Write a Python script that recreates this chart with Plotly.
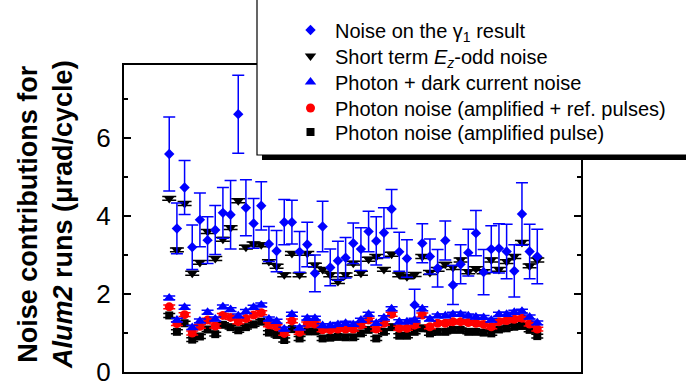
import plotly.graph_objects as go

FONT = "Liberation Sans, Arial, sans-serif"

# run index along the x axis (no labels shown)
runs = list(range(1, 50))

# Noise on the gamma_1 result, with its error bars
gamma1 = [5.59, 3.68, 4.73, 3.20, 3.90, 3.38, 3.64, 4.08, 4.03, 6.61,
          4.21, 3.81, 4.26, 3.28, 3.10, 3.84, 3.84, 3.08, 3.27, 2.53,
          3.73, 2.68, 2.85, 2.93, 3.30, 3.15, 3.60, 3.36, 3.57, 4.18,
          3.08, 2.91, 1.72, 3.30, 2.96, 2.66, 3.37, 2.23, 2.76, 3.06,
          3.56, 2.56, 3.15, 3.17, 3.09, 2.59, 4.05, 3.09, 2.96]
gamma1_err = [0.95, 0.65, 0.69, 0.57, 0.69, 0.60, 0.63, 0.65, 0.88, 1.00,
              0.72, 0.64, 0.62, 0.45, 0.53, 0.58, 0.56, 0.52, 0.57, 0.47,
              0.65, 0.47, 0.50, 0.52, 0.52, 0.55, 0.52, 0.62, 0.64, 0.50,
              0.50, 0.48, 0.40, 0.50, 0.45, 0.48, 0.50, 0.50, 0.50, 0.60,
              0.58, 0.58, 0.60, 0.63, 0.70, 0.67, 0.80, 0.70, 0.70]

# Short term Ez-odd noise
ez_odd = [4.45, 3.13, 4.32, 2.53, 2.81, 3.60, 2.91, 3.40, 3.70, 4.39,
          3.20, 3.28, 3.26, 2.83, 2.71, 2.49, 3.04, 2.49, 3.04, 2.74,
          2.63, 2.49, 2.32, 2.49, 2.79, 2.53, 2.89, 2.96, 2.63, 3.02,
          2.49, 2.44, 2.50, 2.96, 2.55, 2.63, 2.76, 2.68, 2.87, 2.57,
          2.65, 2.57, 2.87, 2.63, 2.83, 2.96, 3.32, 2.72, 2.87]

# Photon + dark current noise
photon_dark = [1.90, 1.33, 1.66, 1.14, 1.31, 1.53, 1.36, 1.67, 1.60, 1.44,
               1.55, 1.66, 1.72, 1.36, 1.30, 1.10, 1.48, 1.13, 1.38, 1.38,
               1.19, 1.19, 1.22, 1.25, 1.22, 1.33, 1.48, 1.25, 1.39, 1.62,
               1.29, 1.29, 1.33, 1.62, 1.36, 1.44, 1.44, 1.48, 1.48, 1.44,
               1.41, 1.40, 1.33, 1.48, 1.48, 1.53, 1.56, 1.41, 1.26]

# Photon noise (amplified + ref. pulses)
photon_amp_ref = [1.67, 1.24, 1.47, 1.00, 1.17, 1.33, 1.18, 1.45, 1.40, 1.29,
                  1.37, 1.46, 1.52, 1.21, 1.16, 0.99, 1.31, 1.02, 1.23, 1.23,
                  1.08, 1.08, 1.10, 1.10, 1.10, 1.20, 1.33, 1.10, 1.25, 1.48,
                  1.12, 1.12, 1.20, 1.46, 1.16, 1.25, 1.25, 1.29, 1.29, 1.27,
                  1.25, 1.22, 1.16, 1.29, 1.32, 1.35, 1.38, 1.23, 1.10]

# Photon noise (amplified pulse)
photon_amp = [1.45, 1.03, 1.25, 0.83, 0.91, 1.09, 0.97, 1.21, 1.15, 1.07,
              1.15, 1.22, 1.29, 1.01, 0.95, 0.82, 1.10, 0.86, 1.04, 1.04,
              0.86, 0.88, 0.90, 0.89, 0.89, 0.99, 1.08, 0.86, 1.03, 1.15,
              0.93, 0.93, 1.03, 1.12, 0.99, 1.03, 1.03, 1.08, 1.08, 1.03,
              1.03, 1.01, 0.99, 1.09, 1.12, 1.16, 1.18, 1.08, 0.92]

small_err = 0.05

fig = go.Figure()

series = [
    # name, y, symbol, color, size, errors, legend
    ("Photon noise (amplified pulse)", photon_amp, "square", "black", 8,
     dict(type="constant", value=small_err, width=6, thickness=1.5), "legend5"),
    ("Photon noise (amplified + ref. pulses)", photon_amp_ref, "circle", "#ff0000", 9,
     dict(type="constant", value=small_err, width=6, thickness=1.5), "legend4"),
    ("Photon + dark current noise", photon_dark, "triangle-up", "#0000ff", 10,
     dict(type="constant", value=small_err, width=6, thickness=1.5), "legend3"),
    ("Short term <i>E<sub>z</sub></i>-odd noise", ez_odd, "triangle-down", "black", 10,
     dict(type="constant", value=small_err, width=7, thickness=1.5), "legend2"),
    ("Noise on the γ<sub>1</sub> result", gamma1, "diamond", "#0000ff", 8,
     dict(type="data", array=gamma1_err, width=6, thickness=1.5), "legend"),
]

for name, y, sym, col, size, err, leg in series:
    err["color"] = col
    fig.add_trace(go.Scatter(
        x=runs, y=y, mode="markers", name=name, legend=leg,
        marker=dict(symbol=sym, color=col, size=size, line=dict(width=0)),
        error_y=err,
    ))

# plot area in pixels: x 124..581, y 65..372
W, H = 686, 383
L, R, T, B = 124, 105, 65, 11
pw, ph = W - L - R, H - T - B


def px_x(p):
    return (p - L) / pw


def px_y(p):
    return (H - B - p) / ph


# legend box with drop shadow
fig.add_shape(type="rect", xref="paper", yref="paper", layer="above",
              x0=px_x(262), x1=px_x(710), y0=px_y(160), y1=px_y(-10),
              fillcolor="black", line=dict(width=0))
fig.add_shape(type="rect", xref="paper", yref="paper", layer="above",
              x0=px_x(257), x1=px_x(705), y0=px_y(155), y1=px_y(-15),
              fillcolor="white", line=dict(color="black", width=1.2))

rows = [30, 56, 82, 108, 132]
leg_common = dict(font=dict(family=FONT, size=20, color="black"),
                  bgcolor="rgba(0,0,0,0)", borderwidth=0, itemwidth=39,
                  xanchor="left", yanchor="middle", x=px_x(286))
legends = {}
for key, row in zip(["legend", "legend2", "legend3", "legend4", "legend5"], rows):
    legends[key] = dict(leg_common, y=px_y(row))

fig.update_layout(
    width=W, height=H,
    margin=dict(l=L, r=R, t=T, b=B, pad=0, autoexpand=False),
    paper_bgcolor="white", plot_bgcolor="white",
    font=dict(family=FONT, color="black"),
    showlegend=True,
    xaxis=dict(range=[-4.9, 54.7], showticklabels=False, ticks="",
               showgrid=False, zeroline=False,
               showline=True, linecolor="black", linewidth=2, mirror=True),
    yaxis=dict(range=[0, 7.87], tickvals=[0, 2, 4, 6],
               ticks="inside", ticklen=7, tickwidth=1.5, tickcolor="black",
               minor=dict(tickvals=[1, 3, 5, 7], ticks="inside", ticklen=4,
                          tickwidth=1.5, tickcolor="black"),
               tickfont=dict(family=FONT, size=26, color="black"),
               ticklabelstandoff=6, ticklabeloverflow="allow",
               showgrid=False, zeroline=False,
               showline=True, linecolor="black", linewidth=2, mirror="ticks"),
    annotations=[dict(
        text="<b>Noise contributions for<br><i>Alum2</i> runs (μrad/cycle)</b>",
        xref="paper", yref="paper", x=px_x(45), y=px_y(215),
        xanchor="center", yanchor="middle", textangle=-90, showarrow=False,
        font=dict(family=FONT, size=27, color="black"),
    )],
    **legends,
)

# the page's default body margin would shift the figure by 8 px
fig.write_html("out.html", config={"displayModeBar": False},
               post_script="document.body.style.margin='0';")
